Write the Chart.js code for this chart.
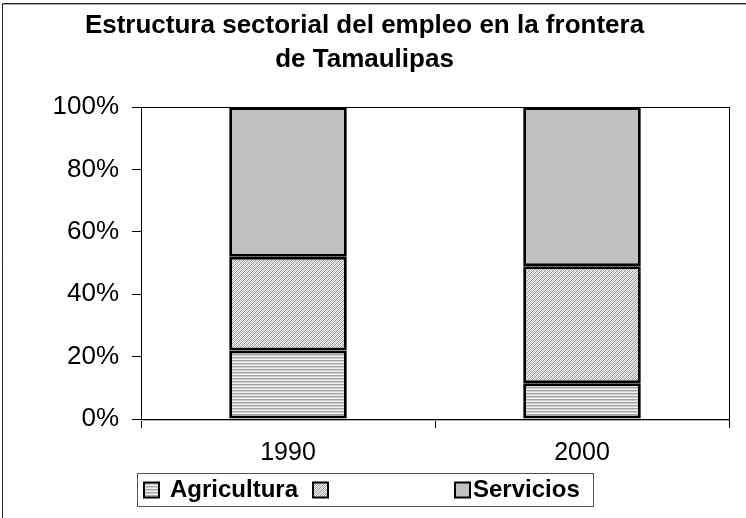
<!DOCTYPE html>
<html><head><meta charset="utf-8">
<script src="https://cdn.jsdelivr.net/npm/chart.js@4.4.1/dist/chart.umd.min.js"></script>
<style>html,body{margin:0;padding:0;background:#fff;}#wrap{width:746px;height:518px;position:relative;}</style>
</head><body><div id="wrap"><canvas id="c" width="746" height="518"></canvas></div>
<script>
const categories = ['1990', '2000'];
const seriesNames = ['Agricultura', '', 'Servicios'];
const agricultura = [22, 11.5];
const industria = [30, 37.5];
const servicios = [48, 51];
const yTicks = [0, 20, 40, 60, 80, 100];
const titleLines = ['Estructura sectorial del empleo en la frontera', 'de Tamaulipas'];

const FONT = "'Liberation Sans', Arial, sans-serif";
const canvas = document.getElementById('c');
const ctx = canvas.getContext('2d');

function stripePattern() {
  const c = document.createElement('canvas'); c.width = 4; c.height = 3;
  const x = c.getContext('2d');
  x.fillStyle = '#f0f0f0'; x.fillRect(0, 0, 4, 3);
  x.fillStyle = '#a4a4a4'; x.fillRect(0, 0, 4, 1);
  x.fillStyle = '#d0d0d0'; x.fillRect(0, 1, 4, 1);
  return ctx.createPattern(c, 'repeat');
}
function hatchPattern() {
  const c = document.createElement('canvas'); c.width = 4; c.height = 4;
  const x = c.getContext('2d');
  x.fillStyle = '#ececec'; x.fillRect(0, 0, 4, 4);
  for (let i = 0; i < 4; i++) {
    x.fillStyle = '#959595'; x.fillRect(i, 3 - i, 1, 1);
    x.fillStyle = '#c4c4c4'; x.fillRect(i, (5 - i) % 4, 1, 1);
  }
  return ctx.createPattern(c, 'repeat');
}
const fills = [stripePattern(), hatchPattern(), '#c0c0c0'];

const frame = {
  id: 'frame',
  beforeDraw(chart) {
    const c = chart.ctx;
    c.save();
    c.strokeStyle = '#222'; c.lineWidth = 1;
    c.beginPath(); c.moveTo(2.5, 800); c.lineTo(2.5, 3.5); c.lineTo(800, 3.5); c.stroke();
    c.strokeStyle = '#aaa';
    c.beginPath(); c.moveTo(3, 4.5); c.lineTo(800, 4.5); c.stroke();
    c.restore();
  },
  afterDraw(chart) {
    const c = chart.ctx, a = chart.chartArea;
    c.save();
    c.strokeStyle = '#000'; c.lineWidth = 1;
    c.strokeRect(Math.round(a.left) + 0.5, Math.round(a.top) + 0.5, Math.round(a.right - a.left), Math.round(a.bottom - a.top));
    c.strokeStyle = '#b0b0b0';
    c.beginPath(); c.moveTo(a.left, Math.round(a.bottom) + 1.5); c.lineTo(a.right, Math.round(a.bottom) + 1.5); c.stroke();
    // legend
    const lx = 137, ly = 473, lw = 456, lh = 33;
    c.strokeStyle = '#555'; c.lineWidth = 1;
    c.strokeRect(lx + 0.5, ly + 0.5, lw, lh);
    const sw = [144, 313, 455], tx = [170, 0, 473];
    const cy = ly + lh / 2;
    c.font = 'bold 24px ' + FONT; c.textBaseline = 'middle'; c.textAlign = 'left';
    chart.data.datasets.forEach((ds, i) => {
      c.fillStyle = ds.backgroundColor;
      c.fillRect(sw[i], cy - 7, 15, 15);
      c.strokeStyle = '#000'; c.lineWidth = 2;
      c.strokeRect(sw[i], cy - 7, 15, 15);
      if (ds.label) { c.fillStyle = '#000'; c.fillText(ds.label, tx[i], cy + 1); }
    });
    c.restore();
  }
};

new Chart(canvas, {
  type: 'bar',
  data: {
    labels: categories,
    datasets: [agricultura, industria, servicios].map((d, i) => ({
      label: seriesNames[i], data: d, backgroundColor: fills[i],
      borderColor: '#000', borderWidth: 3, borderSkipped: false,
      barPercentage: 0.4, categoryPercentage: 1
    }))
  },
  options: {
    responsive: false, animation: false, devicePixelRatio: 1,
    layout: { padding: { left: 0, right: 17, top: 0, bottom: 0 } },
    plugins: {
      legend: { display: false },
      tooltip: { enabled: false },
      title: {
        display: true, text: titleLines, color: '#000',
        font: { family: FONT, size: 26, weight: 'bold', lineHeight: 1.31 },
        padding: { top: 9, bottom: 30 }
      }
    },
    scales: {
      x: {
        stacked: true,
        grid: { display: true, offset: true, drawOnChartArea: false, color: '#000', tickLength: 9, tickColor: '#000' },
        border: { display: true, color: '#000' },
        ticks: { color: '#000', font: { family: FONT, size: 25 }, padding: 10 },
        afterFit(s) { s.height = 99; }
      },
      y: {
        stacked: true, min: 0, max: 100,
        afterBuildTicks(s) { s.ticks = yTicks.map(v => ({ value: v })); },
        grid: { display: true, drawOnChartArea: false, color: '#000', tickLength: 9, tickColor: '#000' },
        border: { display: true, color: '#000' },
        ticks: { color: '#000', font: { family: FONT, size: 26 }, padding: 13, callback: v => v + '%' },
        afterFit(s) { s.width = 141; }
      }
    }
  },
  plugins: [frame]
});
</script></body></html>
